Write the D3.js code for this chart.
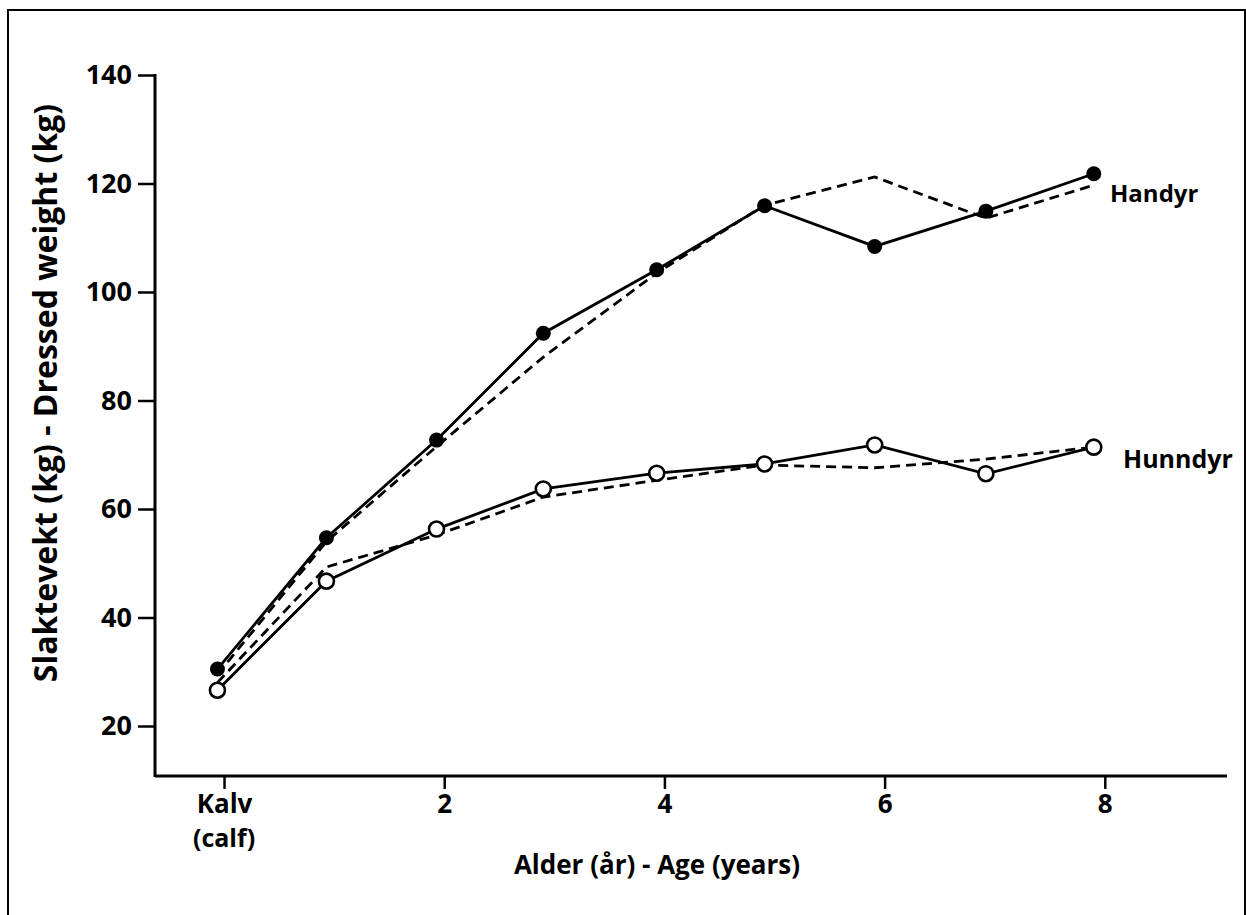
<!DOCTYPE html>
<html>
<head>
<meta charset="utf-8">
<script src="https://cdn.jsdelivr.net/npm/d3@7"></script>
<style>
  body { margin: 0; background: #fff; }
  text { font-family: "Open Sans", "DejaVu Sans", sans-serif; font-weight: 700; fill: #000; }
</style>
</head>
<body>
<script>
// ages (points sit a little left of the ticks)
var ages = [-0.06, 0.93, 1.93, 2.90, 3.93, 4.91, 5.91, 6.92, 7.90];
// Handyr (males): observed = solid with filled dots, dashed = second curve
var handyrObs = [30.5, 54.7, 72.7, 92.4, 104.1, 115.9, 108.4, 114.9, 121.8];
var handyrDash = [29.5, 54.0, 71.5, 88.0, 103.5, 116.0, 121.2, 113.6, 119.7];
// Hunndyr (females)
var hunndyrObs = [26.6, 46.7, 56.3, 63.7, 66.6, 68.3, 71.8, 66.5, 71.4];
var hunndyrDash = [28.0, 49.3, 55.2, 62.2, 65.3, 68.1, 67.6, 69.2, 71.4];

var xTicks = [0, 2, 4, 6, 8];
var yTicks = [20, 40, 60, 80, 100, 120, 140];

var width = 1246, height = 915;

var svg = d3.select("body").append("svg")
  .attr("width", width).attr("height", height);

// frame round the figure
svg.append("path")
  .attr("d", "M8,925 L8,10 L1245,10 L1245,925")
  .attr("fill", "none").attr("stroke", "#000").attr("stroke-width", 2);

var x = d3.scaleLinear().domain([-0.627, 9.11]).range([155, 1227]);
var y = d3.scaleLinear().domain([20, 140]).range([726, 75]);
var baseY = y(10.8);

// y axis
var yAxis = svg.append("g").attr("transform", "translate(155,0)")
  .call(d3.axisLeft(y).tickValues(yTicks).tickSize(17).tickSizeOuter(0).tickPadding(6));
yAxis.select(".domain").remove();
yAxis.selectAll(".tick line").attr("stroke-width", 2.5);
yAxis.selectAll(".tick text").style("font-size", "27px").attr("x", -23);

svg.append("line")
  .attr("x1", 155).attr("x2", 155).attr("y1", y(140) - 1).attr("y2", baseY + 1)
  .attr("stroke", "#000").attr("stroke-width", 3);

// x axis
var xAxis = svg.append("g").attr("transform", "translate(0," + baseY + ")")
  .call(d3.axisBottom(x).tickValues(xTicks).tickSize(13).tickSizeOuter(0)
    .tickFormat(function(d) { return d === 0 ? "Kalv" : d; }));
xAxis.select(".domain").remove();
xAxis.selectAll(".tick line").attr("stroke-width", 2.5);
xAxis.selectAll(".tick text").style("font-size", "26px").attr("y", 37).attr("dy", null);

// second line under Kalv
svg.append("text")
  .attr("x", x(0)).attr("y", baseY + 71)
  .attr("text-anchor", "middle").style("font-size", "25px")
  .text("(calf)");

svg.append("line")
  .attr("x1", 155).attr("x2", 1227).attr("y1", baseY).attr("y2", baseY)
  .attr("stroke", "#000").attr("stroke-width", 3);

// axis titles
svg.append("text")
  .attr("x", 657).attr("y", 874)
  .attr("text-anchor", "middle").style("font-size", "26px")
  .text("Alder (år) - Age (years)");

svg.append("text")
  .attr("transform", "translate(57,393) rotate(-90)")
  .attr("text-anchor", "middle").style("font-size", "32px")
  .text("Slaktevekt (kg) - Dressed weight (kg)");

// lines
var line = d3.line()
  .x(function(d, i) { return x(ages[i]); })
  .y(function(d) { return y(d); });

function drawLine(vals, dashed) {
  svg.append("path")
    .datum(vals)
    .attr("d", line)
    .attr("fill", "none")
    .attr("stroke", "#000")
    .attr("stroke-width", 2.8)
    .attr("stroke-dasharray", dashed ? "10,6" : null);
}

drawLine(handyrDash, true);
drawLine(hunndyrDash, true);
drawLine(handyrObs, false);
drawLine(hunndyrObs, false);

svg.selectAll(".dotM").data(handyrObs).enter().append("circle")
  .attr("class", "dotM")
  .attr("cx", function(d, i) { return x(ages[i]); })
  .attr("cy", function(d) { return y(d); })
  .attr("r", 7.5).attr("fill", "#000");

svg.selectAll(".dotF").data(hunndyrObs).enter().append("circle")
  .attr("class", "dotF")
  .attr("cx", function(d, i) { return x(ages[i]); })
  .attr("cy", function(d) { return y(d); })
  .attr("r", 7.5).attr("fill", "#fff").attr("stroke", "#000").attr("stroke-width", 2.6);

// series labels
svg.append("text").attr("x", 1110).attr("y", 202).style("font-size", "24px").text("Handyr");
svg.append("text").attr("x", 1123).attr("y", 468).style("font-size", "25px").text("Hunndyr");
</script>
</body>
</html>
